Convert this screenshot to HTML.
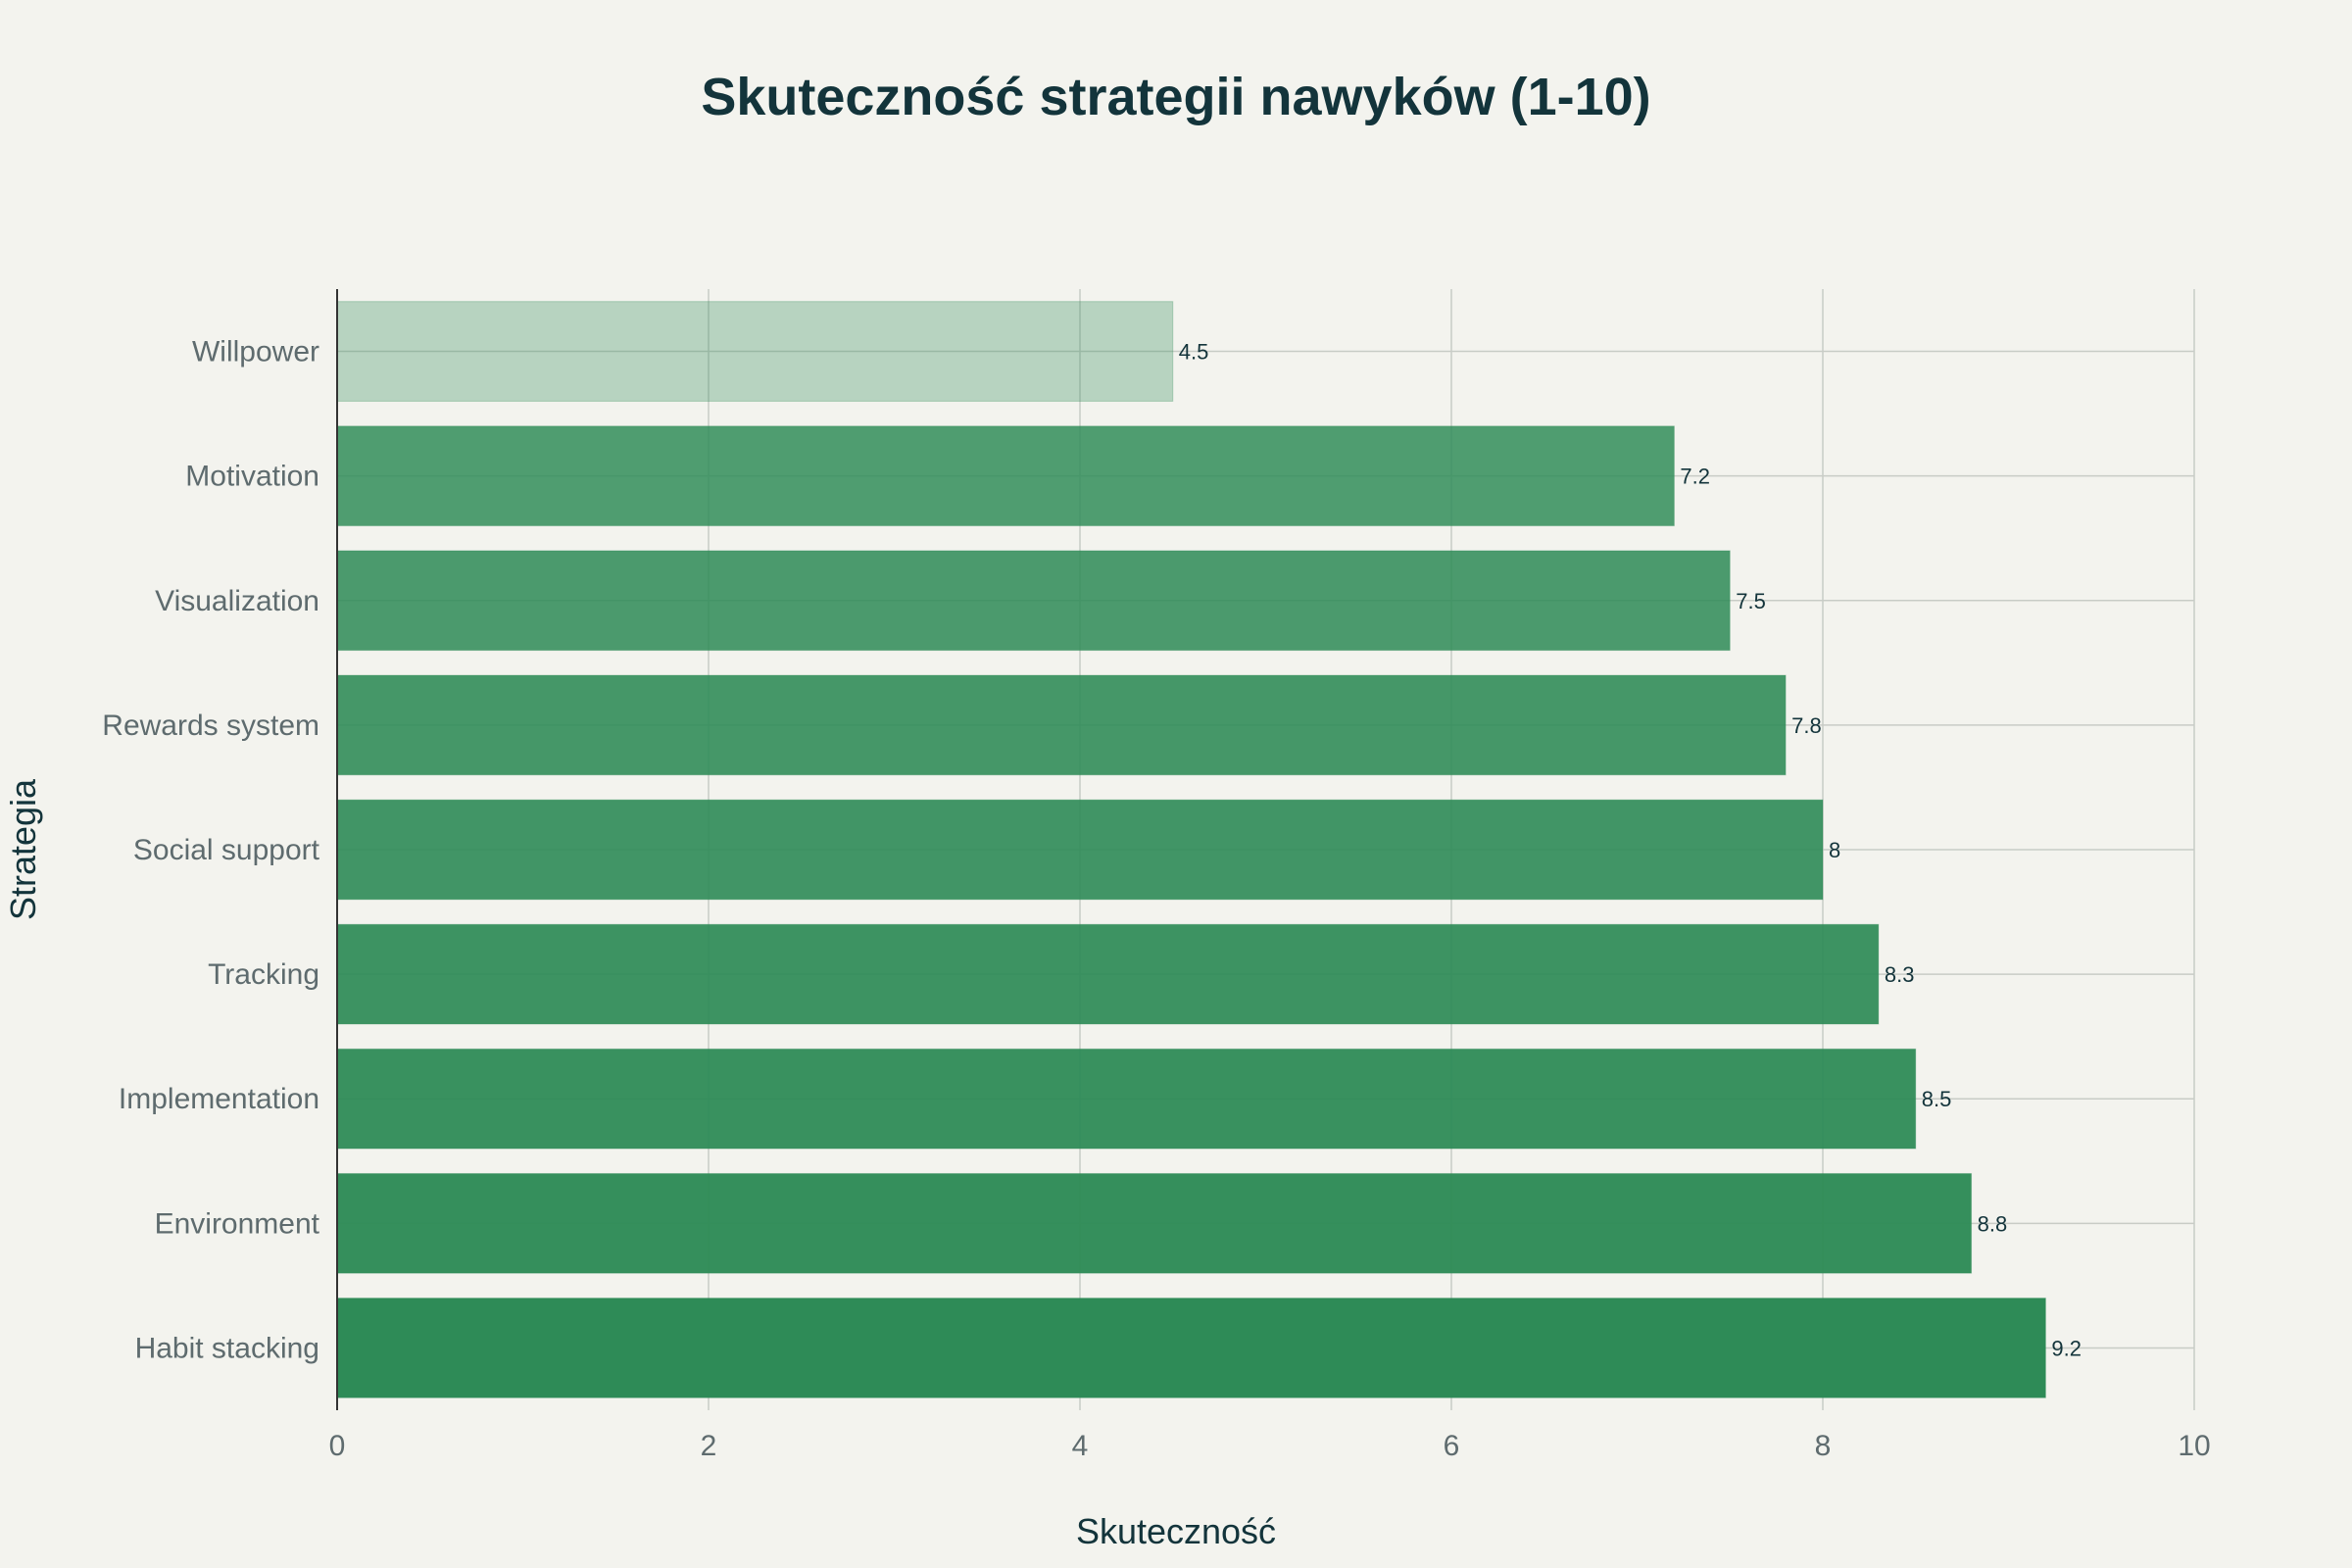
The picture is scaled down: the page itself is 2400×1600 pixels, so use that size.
<!DOCTYPE html>
<html><head><meta charset="utf-8"><style>
html,body{margin:0;padding:0;background:#F3F3EE;}
svg{display:block;font-family:"Liberation Sans",sans-serif;}
</style></head><body>
<svg id="chart" width="2400" height="1600" viewBox="0 0 2400 1600" xmlns="http://www.w3.org/2000/svg">
<rect width="2400" height="1600" fill="#F3F3EE"/>
<text x="1200" y="117" text-anchor="middle" font-size="54" font-weight="bold" fill="#13343B">Skuteczność strategii nawyków (1-10)</text>
<g id="grid"></g><g id="bars"></g><g id="labels"></g>
<text x="1200" y="1575" text-anchor="middle" font-size="36" fill="#13343B">Skuteczność</text>
<text transform="translate(36,867) rotate(-90)" text-anchor="middle" font-size="36" fill="#13343B">Strategia</text>
</svg>
<script>
const categories=["Willpower","Motivation","Visualization","Rewards system","Social support","Tracking","Implementation","Environment","Habit stacking"];
const values=[4.5,7.2,7.5,7.8,8,8.3,8.5,8.8,9.2];
const xTicks=[0,2,4,6,8,10];
const NS="http://www.w3.org/2000/svg";
const x0=344,x1=2239,yTop=295,yBot=1439;
const step=(yBot-yTop)/categories.length, bh=step*0.8;
const xs=v=>x0+(v/10)*(x1-x0);
const yc=i=>yTop+step*(i+0.5);
function mk(t,a,p){const e=document.createElementNS(NS,t);for(const k in a)e.setAttribute(k,a[k]);p.appendChild(e);return e;}
const grid=document.getElementById('grid'),bars=document.getElementById('bars'),labels=document.getElementById('labels');
xTicks.forEach(t=>{
 const l=mk('line',{x1:xs(t),x2:xs(t),y1:yTop,y2:yBot,stroke:'#C8CCC6','stroke-width':1.5},grid);
 
 
 const tx=mk('text',{x:xs(t),y:yBot+46,'text-anchor':'middle','font-size':30,fill:'#5E6B6E'},labels);
 tx.textContent=t;
 
 
});
const vmin=Math.min(...values),vmax=Math.max(...values);
categories.forEach((c,i)=>{
 const g=mk('line',{x1:x0,x2:x1,y1:yc(i),y2:yc(i),stroke:'#C8CCC6','stroke-width':1.5},grid);
 
 
 const f=(values[i]-vmin)/(vmax-vmin);
 const a=0.3+0.7*Math.pow(f,0.5);
 const r=mk('rect',{x:x0,y:yc(i)-bh/2,width:xs(values[i])-x0,height:bh,fill:'#2E8B57','fill-opacity':a,stroke:'#2E8B57','stroke-opacity':0.3},bars);
 
 
 const vl=mk('text',{x:xs(values[i])+6,y:yc(i)+8,'font-size':22,fill:'#13343B'},labels);
 vl.textContent=values[i];
 
 
 const cl=mk('text',{x:x0-18,y:yc(i)+10,'text-anchor':'end','font-size':30,fill:'#5E6B6E'},labels);
 cl.textContent=c;
 
 
});
const ax=mk('line',{x1:x0,x2:x0,y1:yTop,y2:yBot,stroke:'#333','stroke-width':2},labels);


</script>
</body></html>
